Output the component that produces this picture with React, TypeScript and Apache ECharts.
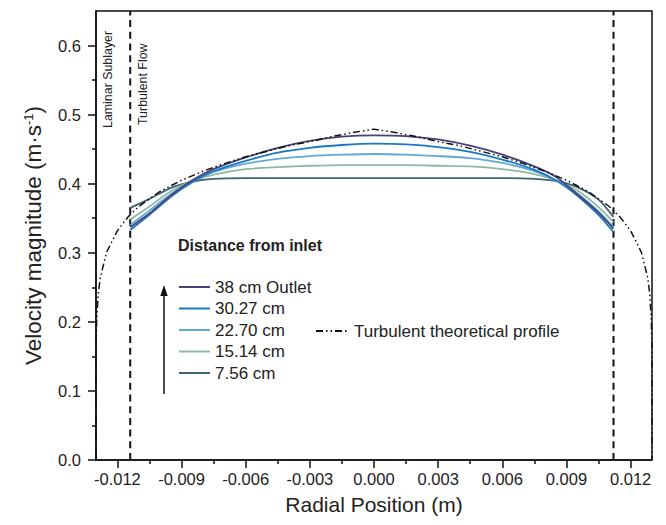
import React, { useEffect, useRef } from "react";
import * as echarts from "echarts";

const FONT = "'Liberation Sans', Arial, Helvetica, sans-serif";

// Radial positions (m) of the CFD profiles
const radialPositions = [
  -0.0114, -0.0105, -0.0095, -0.0085, -0.0075, -0.006, -0.0045, -0.003, -0.0015, 0,
  0.0015, 0.003, 0.0045, 0.006, 0.0075, 0.0085, 0.0095, 0.0105, 0.0112,
];
const outlet38 = [0.337, 0.357, 0.383, 0.405, 0.421, 0.438, 0.452, 0.462, 0.468, 0.470, 0.469, 0.464, 0.455, 0.442, 0.425, 0.410, 0.385, 0.358, 0.335];
const dist3027 = [0.333, 0.355, 0.381, 0.402, 0.418, 0.433, 0.445, 0.452, 0.456, 0.458, 0.457, 0.453, 0.446, 0.435, 0.420, 0.405, 0.383, 0.355, 0.330];
const dist2270 = [0.340, 0.361, 0.385, 0.404, 0.417, 0.429, 0.436, 0.440, 0.442, 0.443, 0.442, 0.440, 0.437, 0.430, 0.418, 0.405, 0.386, 0.360, 0.337];
const dist1514 = [0.348, 0.367, 0.389, 0.404, 0.413, 0.421, 0.424, 0.426, 0.427, 0.427, 0.427, 0.426, 0.425, 0.421, 0.414, 0.405, 0.390, 0.366, 0.344];
const dist756 = [0.365, 0.378, 0.394, 0.403, 0.407, 0.408, 0.408, 0.408, 0.408, 0.408, 0.408, 0.408, 0.408, 0.408, 0.407, 0.404, 0.395, 0.377, 0.352];

// Turbulent theoretical profile
const theoryPositions = [
  -0.013, -0.012999, -0.01297, -0.0129, -0.0128, -0.0125, -0.012, -0.0115, -0.011, -0.01,
  -0.009, -0.008, -0.007, -0.006, -0.005, -0.004, -0.003, -0.002, -0.001, 0,
  0.001, 0.002, 0.003, 0.004, 0.005, 0.006, 0.007, 0.008, 0.009, 0.01,
  0.011, 0.0115, 0.012, 0.0125, 0.0128, 0.0129, 0.01297, 0.012999, 0.013,
];
const theoryValues = [
  0, 0.156, 0.201, 0.239, 0.264, 0.301, 0.332, 0.352, 0.367, 0.389,
  0.405, 0.418, 0.429, 0.439, 0.447, 0.455, 0.461, 0.468, 0.474, 0.479,
  0.474, 0.468, 0.461, 0.455, 0.447, 0.439, 0.429, 0.418, 0.405, 0.389,
  0.367, 0.352, 0.332, 0.301, 0.264, 0.239, 0.201, 0.156, 0,
];

// Laminar sublayer boundaries (m) and their vertical extent
const sublayerPositions = [-0.0114, 0.0112];
const sublayerSpan = [0, 0.65];

const seriesNames = ["38 cm Outlet", "30.27 cm", "22.70 cm", "15.14 cm", "7.56 cm"];
const seriesColors = ["#47427a", "#1878c8", "#5eaad4", "#8fb8a2", "#3b6372"];
const theoryName = "Turbulent theoretical profile";

const xTickValues = [-0.012, -0.009, -0.006, -0.003, 0, 0.003, 0.006, 0.009, 0.012];
const xMinorTickValues = [-0.0105, -0.0075, -0.0045, -0.0015, 0.0015, 0.0045, 0.0075, 0.0105];
const yTickValues = [0, 0.1, 0.2, 0.3, 0.4, 0.5, 0.6];
const yMinorTickValues = [0.05, 0.15, 0.25, 0.35, 0.45, 0.55];

export default function App() {
  const ref = useRef<HTMLDivElement>(null);

  useEffect(() => {
    if (!ref.current) return;
    const chart = echarts.init(ref.current, undefined, { renderer: "svg" });
    const axisColor = "#111";
    const lineStyle = { color: axisColor, width: 1.5 };
    const profiles = [outlet38, dist3027, dist2270, dist1514, dist756];

    const cfdSeries = profiles.map((vals, i) => ({
      name: seriesNames[i],
      type: "line",
      data: radialPositions.map((x, j) => [x, vals[j]]),
      symbol: "none",
      smooth: 0.25,
      lineStyle: { color: seriesColors[i], width: 1.8 },
      itemStyle: { color: seriesColors[i] },
      z: 3 + (4 - i),
    }));

    const sublayerSeries = sublayerPositions.map((x, i) => ({
      name: "sublayer" + i,
      type: "line",
      data: sublayerSpan.map((y) => [x, y]),
      symbol: "none",
      silent: true,
      lineStyle: { color: axisColor, width: 2, type: [7, 4.7] },
      z: 2,
    }));

    const option: any = {
      animation: false,
      backgroundColor: "#fff",
      textStyle: { fontFamily: FONT },
      grid: {
        left: 96, right: 14, top: 11, bottom: 65,
        show: true, borderColor: axisColor, borderWidth: 1.5, backgroundColor: "transparent",
      },
      xAxis: [
        {
          type: "value", min: -0.013, max: 0.013, position: "bottom",
          name: "Radial Position (m)", nameLocation: "middle", nameGap: 34,
          nameTextStyle: { fontSize: 21, color: "#222", fontFamily: FONT },
          axisLine: { show: true, onZero: false, lineStyle },
          axisTick: { show: true, customValues: xTickValues, length: 8, lineStyle },
          axisLabel: {
            customValues: xTickValues, formatter: (v: number) => v.toFixed(3),
            fontSize: 16.5, color: "#222", margin: 10, fontFamily: FONT,
          },
          splitLine: { show: false },
        },
        {
          type: "value", min: -0.013, max: 0.013, position: "bottom",
          axisLine: { show: false, onZero: false },
          axisTick: { show: true, customValues: xMinorTickValues, length: 4, lineStyle },
          axisLabel: { show: false },
          splitLine: { show: false },
        },
      ],
      yAxis: [
        {
          type: "value", min: 0, max: 0.65, position: "left",
          name: "{n|Velocity magnitude (m·s}{s|-1}{n|)}", nameLocation: "middle", nameRotate: 90, nameGap: 51,
          nameTextStyle: {
            color: "#222", fontFamily: FONT,
            rich: {
              n: { fontSize: 22.5, lineHeight: 23, verticalAlign: "bottom", color: "#222", fontFamily: FONT },
              s: { fontSize: 13, lineHeight: 14, verticalAlign: "top", color: "#222", fontFamily: FONT },
            },
          },
          axisLine: { show: true, onZero: false, lineStyle },
          axisTick: { show: true, customValues: yTickValues, length: 8, lineStyle },
          axisLabel: {
            customValues: yTickValues, formatter: (v: number) => v.toFixed(1),
            fontSize: 16.5, color: "#222", margin: 15, fontFamily: FONT,
          },
          splitLine: { show: false },
        },
        {
          type: "value", min: 0, max: 0.65, position: "left",
          axisLine: { show: false, onZero: false },
          axisTick: { show: true, customValues: yMinorTickValues, length: 4, lineStyle },
          axisLabel: { show: false },
          splitLine: { show: false },
        },
      ],
      legend: [
        {
          data: seriesNames, orient: "vertical", left: 178, top: 278.5,
          itemWidth: 31, itemHeight: 12, itemGap: 4.5, padding: 0, selectedMode: false,
          itemStyle: { opacity: 0 },
          textStyle: { fontSize: 17, color: "#222", fontFamily: FONT },
        },
        {
          data: [theoryName], orient: "vertical", left: 315, top: 322.5,
          itemWidth: 33, itemHeight: 12, padding: 0, selectedMode: false,
          itemStyle: { opacity: 0 },
          textStyle: { fontSize: 17, color: "#222", fontFamily: FONT },
        },
      ],
      graphic: [
        {
          type: "text", x: 108, y: 128, rotation: Math.PI / 2,
          style: { text: "Laminar Sublayer", fontSize: 12.4, fontFamily: FONT, fill: "#222", align: "left", verticalAlign: "middle" },
        },
        {
          type: "text", x: 143, y: 125, rotation: Math.PI / 2,
          style: { text: "Turbulent Flow", fontSize: 12.4, fontFamily: FONT, fill: "#222", align: "left", verticalAlign: "middle" },
        },
        {
          type: "text", x: 178, y: 245,
          style: { text: "Distance from inlet", fontSize: 16, fontWeight: "bold", fontFamily: FONT, fill: "#222", align: "left", verticalAlign: "middle" },
        },
        {
          type: "line", shape: { x1: 164, y1: 394, x2: 164, y2: 294 },
          style: { stroke: "#111", lineWidth: 1.5 },
        },
        {
          type: "polygon", shape: { points: [[164, 285], [160.3, 296], [167.7, 296]] },
          style: { fill: "#111" },
        },
      ],
      series: [
        ...cfdSeries,
        ...sublayerSeries,
        {
          name: theoryName,
          type: "line",
          data: theoryPositions.map((x, j) => [x, theoryValues[j]]),
          symbol: "none",
          lineStyle: { color: "#111", width: 1.5, type: [7, 3, 1.5, 3, 1.5, 3] },
          itemStyle: { color: "#111" },
          z: 10,
        },
      ],
    };
    chart.setOption(option);
    return () => chart.dispose();
  }, []);

  return (
    <div
      ref={ref}
      style={{ position: "fixed", left: 0, top: 0, width: 666, height: 525, background: "#fff" }}
    />
  );
}
